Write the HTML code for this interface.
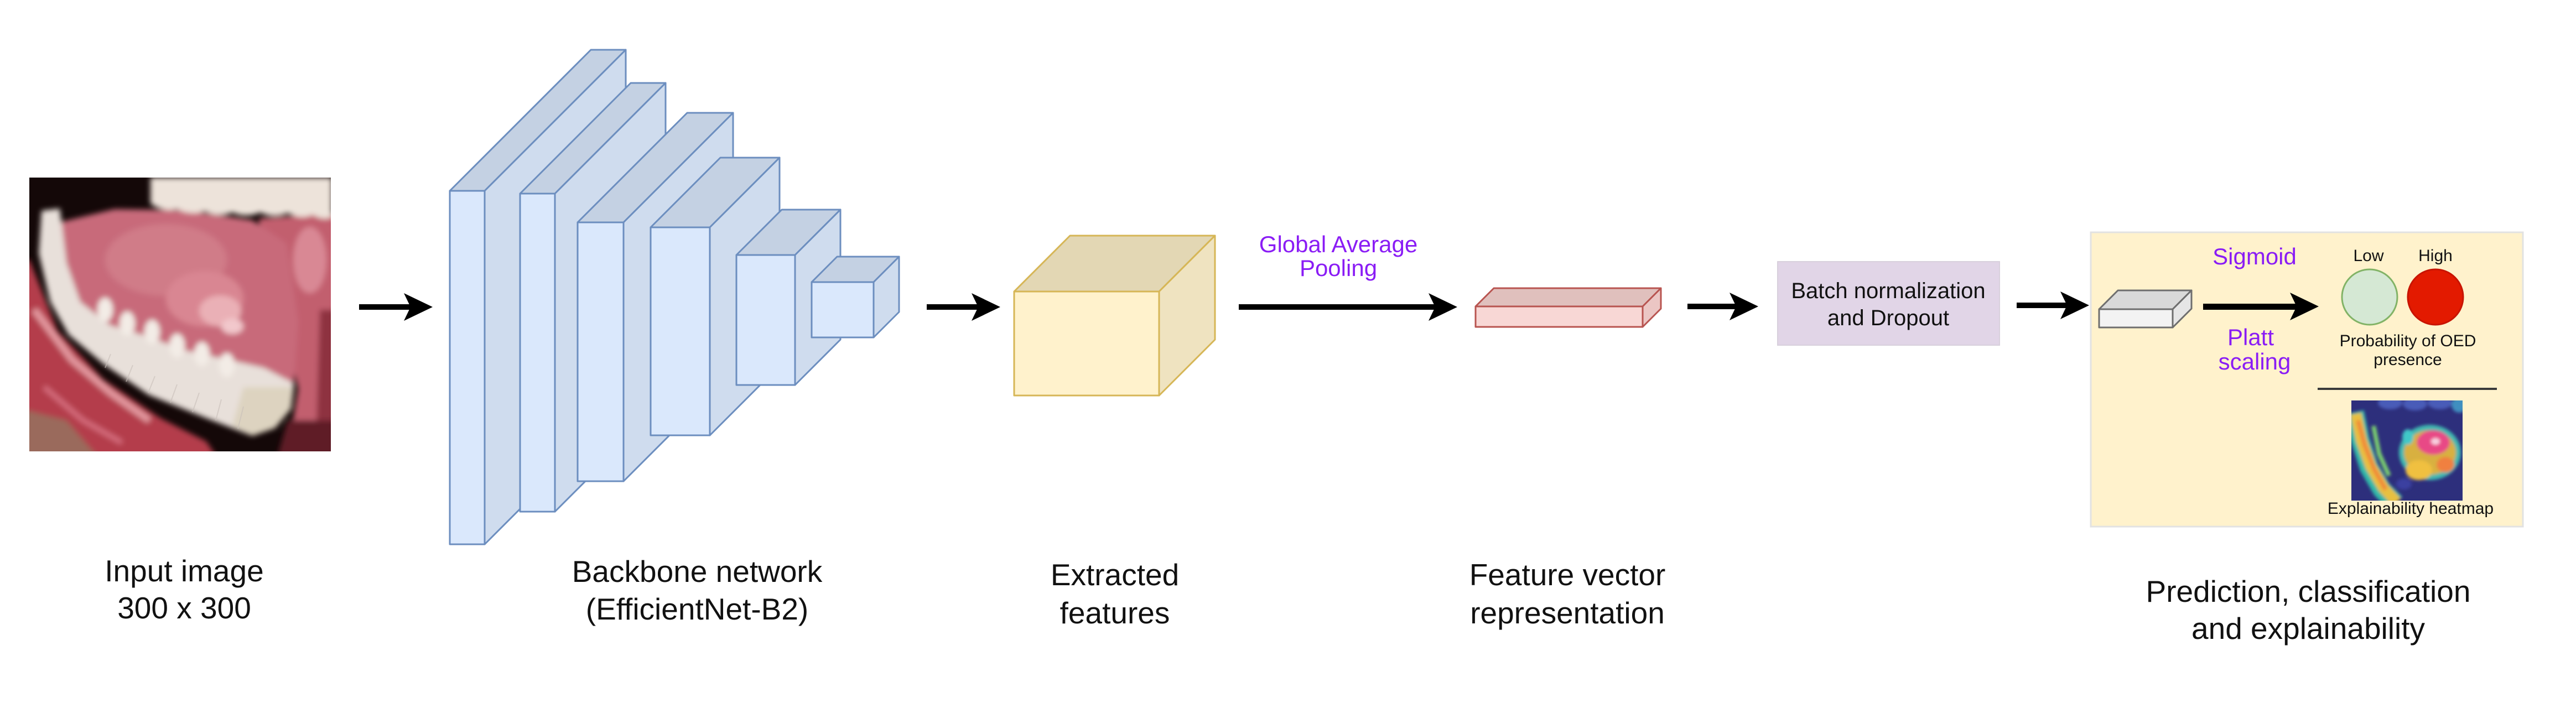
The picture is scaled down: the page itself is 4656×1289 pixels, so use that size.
<!DOCTYPE html>
<html>
<head>
<meta charset="utf-8">
<style>
  html,body{margin:0;padding:0;background:#fff;}
  body{width:4656px;height:1289px;overflow:hidden;}
  svg{display:block;}
  text{font-family:"Liberation Sans", Arial, Helvetica, sans-serif;}
</style>
</head>
<body>
<svg width="4656" height="1289" viewBox="0 0 4656 1289" xmlns="http://www.w3.org/2000/svg">
  <defs>
    <clipPath id="imgclip"><rect x="53" y="321" width="545" height="495"/></clipPath>
    <clipPath id="hmclip"><rect x="4250" y="724" width="201" height="181"/></clipPath>
    <filter id="blur6" x="-10%" y="-10%" width="120%" height="120%"><feGaussianBlur stdDeviation="5"/></filter>
    <filter id="blur3" x="-10%" y="-10%" width="120%" height="120%"><feGaussianBlur stdDeviation="3"/></filter>
  </defs>
  <rect x="0" y="0" width="4656" height="1289" fill="#ffffff"/>

  <!-- ===== Input image (mouth photo approximation) ===== -->
  <g clip-path="url(#imgclip)">
    <rect x="53" y="321" width="545" height="495" fill="#140808"/>
    <g filter="url(#blur6)">
      <!-- right cheek / lip -->
      <polygon points="468,395 610,385 610,830 518,830 539,703 518,616 477,510" fill="#c25f6e"/>
      <ellipse cx="560" cy="470" rx="30" ry="60" fill="#d98894"/>
      <polygon points="578,560 610,560 610,770 572,770" fill="#8e3040"/>
      <polygon points="520,760 610,760 610,830 500,830" fill="#5e1c28"/>
      <!-- tongue / gum -->
      <polygon points="95,405 207,378 332,380 456,398 518,440 539,581 531,693 415,651 249,616 124,546 100,475" fill="#c86a7a"/>
      <ellipse cx="300" cy="470" rx="110" ry="65" fill="#d07c88"/>
      <ellipse cx="370" cy="540" rx="70" ry="50" fill="#d98692"/>
      <ellipse cx="398" cy="562" rx="38" ry="28" fill="#eab0b6"/>
      <ellipse cx="420" cy="590" rx="20" ry="14" fill="#f2c8cc"/>
      <!-- upper teeth -->
      <path d="M272,321 L600,321 L600,392 Q585,400 565,388 Q545,398 520,385 Q495,396 470,384 Q445,395 420,384 Q395,394 370,382 Q345,390 320,378 Q295,384 272,368 Z" fill="#ede3da"/>
      <!-- lower lip -->
      <polygon points="40,470 53,470 104,598 187,686 290,756 373,798 394,830 40,830" fill="#b43e4c"/>
      <polyline points="62,560 130,650 200,710 270,760" fill="none" stroke="#e49aa0" stroke-width="12"/>
      <polyline points="80,700 150,760 220,800" fill="none" stroke="#d87080" stroke-width="8"/>
      <polygon points="40,740 120,760 180,830 40,830" fill="#9a6a5c"/>
      <!-- teeth / denture band -->
      <polygon points="75,381 108,377 120,475 145,546 199,588 269,609 332,633 415,651 477,665 531,693 526,739 497,774 456,788 373,756 269,714 187,658 124,605 91,546 70,458" fill="#e8e0da"/>
      <ellipse cx="190" cy="560" rx="14" ry="22" fill="#f3ece6"/>
      <ellipse cx="230" cy="585" rx="14" ry="22" fill="#f3ece6"/>
      <ellipse cx="275" cy="600" rx="14" ry="22" fill="#f3ece6"/>
      <ellipse cx="320" cy="625" rx="14" ry="22" fill="#f3ece6"/>
      <ellipse cx="365" cy="640" rx="14" ry="22" fill="#f3ece6"/>
      <ellipse cx="410" cy="660" rx="14" ry="22" fill="#f3ece6"/>
      <polygon points="440,700 531,700 526,739 497,774 456,788 420,770" fill="#ddd3c0"/>
    </g>
    <g stroke="#c9c0ba" stroke-width="2" opacity="0.6">
      <line x1="200" y1="640" x2="190" y2="665"/>
      <line x1="240" y1="660" x2="228" y2="690"/>
      <line x1="280" y1="680" x2="268" y2="710"/>
      <line x1="320" y1="695" x2="308" y2="728"/>
      <line x1="360" y1="710" x2="348" y2="745"/>
      <line x1="400" y1="722" x2="390" y2="760"/>
      <line x1="440" y1="735" x2="430" y2="775"/>
    </g>
  </g>

  <!-- ===== Arrows ===== -->
  <g fill="#000" stroke="none">
    <rect x="649" y="550" width="95" height="10"/>
    <polygon points="782,555 730,530 742,555 730,580"/>
    <rect x="1675" y="550" width="95" height="10"/>
    <polygon points="1808,555 1756,530 1768,555 1756,580"/>
    <rect x="2239" y="550" width="357" height="10"/>
    <polygon points="2634,555 2582,530 2594,555 2582,580"/>
    <rect x="3050" y="549" width="90" height="10"/>
    <polygon points="3178,554 3126,529 3138,554 3126,579"/>
    <rect x="3645" y="547" width="93" height="10"/>
    <polygon points="3776,552 3724,527 3736,552 3724,577"/>
  </g>

  <!-- ===== Backbone layers ===== -->
  <g stroke="#6c8ebf" stroke-width="3" stroke-linejoin="round">
    <polygon points="813,345 1068,90 1131,90 876,345" fill="#c4d1e3"/>
    <polygon points="876,345 1131,90 1131,729 876,984" fill="#cfdcee"/>
    <rect x="813" y="345" width="63" height="639" fill="#dae8fc"/>
    <polygon points="940,350 1140,150 1203,150 1003,350" fill="#c4d1e3"/>
    <polygon points="1003,350 1203,150 1203,725 1003,925" fill="#cfdcee"/>
    <rect x="940" y="350" width="63" height="575" fill="#dae8fc"/>
    <polygon points="1044,402 1242,204 1325,204 1127,402" fill="#c4d1e3"/>
    <polygon points="1127,402 1325,204 1325,672 1127,870" fill="#cfdcee"/>
    <rect x="1044" y="402" width="83" height="468" fill="#dae8fc"/>
    <polygon points="1176,411 1302,285 1409,285 1283,411" fill="#c4d1e3"/>
    <polygon points="1283,411 1409,285 1409,661 1283,787" fill="#cfdcee"/>
    <rect x="1176" y="411" width="107" height="376" fill="#dae8fc"/>
    <polygon points="1331,461 1413,379 1519,379 1437,461" fill="#c4d1e3"/>
    <polygon points="1437,461 1519,379 1519,614 1437,696" fill="#cfdcee"/>
    <rect x="1331" y="461" width="106" height="235" fill="#dae8fc"/>
    <polygon points="1467,510 1513,464 1625,464 1579,510" fill="#c4d1e3"/>
    <polygon points="1579,510 1625,464 1625,564 1579,610" fill="#cfdcee"/>
    <rect x="1467" y="510" width="112" height="100" fill="#dae8fc"/>
  </g>

  <!-- ===== Extracted features cube ===== -->
  <g stroke="#d6b656" stroke-width="3" stroke-linejoin="round">
    <polygon points="1833,527 1934,426 2196,426 2095,527" fill="#e3d7b4"/>
    <polygon points="2095,527 2196,426 2196,614 2095,715" fill="#efe3c0"/>
    <rect x="1833" y="527" width="262" height="188" fill="#fff2cc"/>
  </g>

  <!-- ===== Feature vector ===== -->
  <g stroke="#b85450" stroke-width="3" stroke-linejoin="round">
    <polygon points="2667,554 2700,521 3002,521 2969,554" fill="#e0c0bd"/>
    <polygon points="2969,554 3002,521 3002,558 2969,591" fill="#ebc6c4"/>
    <rect x="2667" y="554" width="302" height="37" fill="#f8d7d5"/>
  </g>

  <!-- ===== Batch norm box ===== -->
  <rect x="3213" y="473" width="401" height="151" fill="#e1d5e7" stroke="#d8d0dc" stroke-width="2"/>
  <text x="3413" y="539" font-size="40" text-anchor="middle" fill="#111">Batch normalization</text>
  <text x="3413" y="588" font-size="40" text-anchor="middle" fill="#111">and Dropout</text>

  <!-- ===== Prediction panel ===== -->
  <rect x="3779" y="420" width="781" height="532" fill="#fff2cc" stroke="#e2e2e2" stroke-width="3"/>
  <g stroke="#6e6e6e" stroke-width="3" stroke-linejoin="round">
    <polygon points="3794,559 3828,525 3961,525 3927,559" fill="#d9d9d9"/>
    <polygon points="3927,559 3961,525 3961,558 3927,592" fill="#e6e6e6"/>
    <rect x="3794" y="559" width="133" height="33" fill="#f3f3f3"/>
  </g>
  <rect x="3982" y="549" width="171" height="11" fill="#000"/>
  <polygon points="4191,554 4139,529 4151,554 4139,579" fill="#000"/>

  <text x="4075" y="478" font-size="42" text-anchor="middle" fill="#8a1cf5">Sigmoid</text>
  <text x="4068" y="624" font-size="42" text-anchor="middle" fill="#8a1cf5">Platt</text>
  <text x="4075" y="668" font-size="42" text-anchor="middle" fill="#8a1cf5">scaling</text>

  <text x="4281" y="472" font-size="30" text-anchor="middle" fill="#111">Low</text>
  <text x="4402" y="472" font-size="30" text-anchor="middle" fill="#111">High</text>
  <ellipse cx="4283" cy="537" rx="50" ry="50" fill="#d5e8d4" stroke="#82b366" stroke-width="3"/>
  <ellipse cx="4402" cy="537" rx="50" ry="50" fill="#e31a00" stroke="#c81400" stroke-width="3"/>
  <text x="4352" y="626" font-size="30" text-anchor="middle" fill="#111">Probability of OED</text>
  <text x="4352" y="660" font-size="30" text-anchor="middle" fill="#111">presence</text>
  <rect x="4189" y="701" width="324" height="4" fill="#3a3a3a"/>

  <!-- heatmap -->
  <g clip-path="url(#hmclip)">
    <rect x="4250" y="724" width="201" height="181" fill="#2d2f7c"/>
    <g filter="url(#blur3)">
      <ellipse cx="4320" cy="728" rx="22" ry="12" fill="#4a5cb8"/>
      <ellipse cx="4365" cy="730" rx="22" ry="12" fill="#4a5cb8"/>
      <ellipse cx="4410" cy="728" rx="22" ry="12" fill="#4a5cb8"/>
      <ellipse cx="4445" cy="732" rx="14" ry="14" fill="#3f8fc0"/>
      <polyline points="4256,745 4266,795 4282,845 4305,885 4330,910" fill="none" stroke="#30b8a8" stroke-width="34"/>
      <polyline points="4258,748 4268,796 4285,843 4308,882 4332,908" fill="none" stroke="#e8c040" stroke-width="20"/>
      <polyline points="4262,760 4274,805 4292,850 4312,885" fill="none" stroke="#f08a3a" stroke-width="8"/>
      <polyline points="4290,770 4300,820 4318,860" fill="none" stroke="#7ad070" stroke-width="8"/>
      <ellipse cx="4392" cy="818" rx="56" ry="50" fill="#40b8b0"/>
      <ellipse cx="4392" cy="818" rx="47" ry="40" fill="#d8b040"/>
      <ellipse cx="4372" cy="850" rx="24" ry="18" fill="#f0c040"/>
      <ellipse cx="4420" cy="840" rx="16" ry="14" fill="#f08040"/>
      <ellipse cx="4398" cy="800" rx="30" ry="22" fill="#e84a86"/>
      <ellipse cx="4402" cy="798" rx="8" ry="6" fill="#f8d0e0"/>
      <ellipse cx="4352" cy="790" rx="10" ry="14" fill="#40c8c8"/>
      <ellipse cx="4345" cy="875" rx="14" ry="10" fill="#3a40a0"/>
    </g>
  </g>
  <text x="4357" y="929" font-size="30" text-anchor="middle" fill="#111">Explainability heatmap</text>

  <!-- ===== Purple label ===== -->
  <text x="2419" y="456" font-size="42" text-anchor="middle" fill="#8a1cf5">Global Average</text>
  <text x="2419" y="499" font-size="42" text-anchor="middle" fill="#8a1cf5">Pooling</text>

  <!-- ===== Bottom labels ===== -->
  <g font-size="55" fill="#111" text-anchor="middle">
    <text x="333" y="1051">Input image</text>
    <text x="333" y="1118">300 x 300</text>
    <text x="1260" y="1052">Backbone network</text>
    <text x="1260" y="1120">(EfficientNet-B2)</text>
    <text x="2015" y="1058">Extracted</text>
    <text x="2015" y="1127">features</text>
    <text x="2833" y="1058">Feature vector</text>
    <text x="2833" y="1127">representation</text>
    <text x="4172" y="1088">Prediction, classification</text>
    <text x="4172" y="1155">and explainability</text>
  </g>
</svg>
</body>
</html>
